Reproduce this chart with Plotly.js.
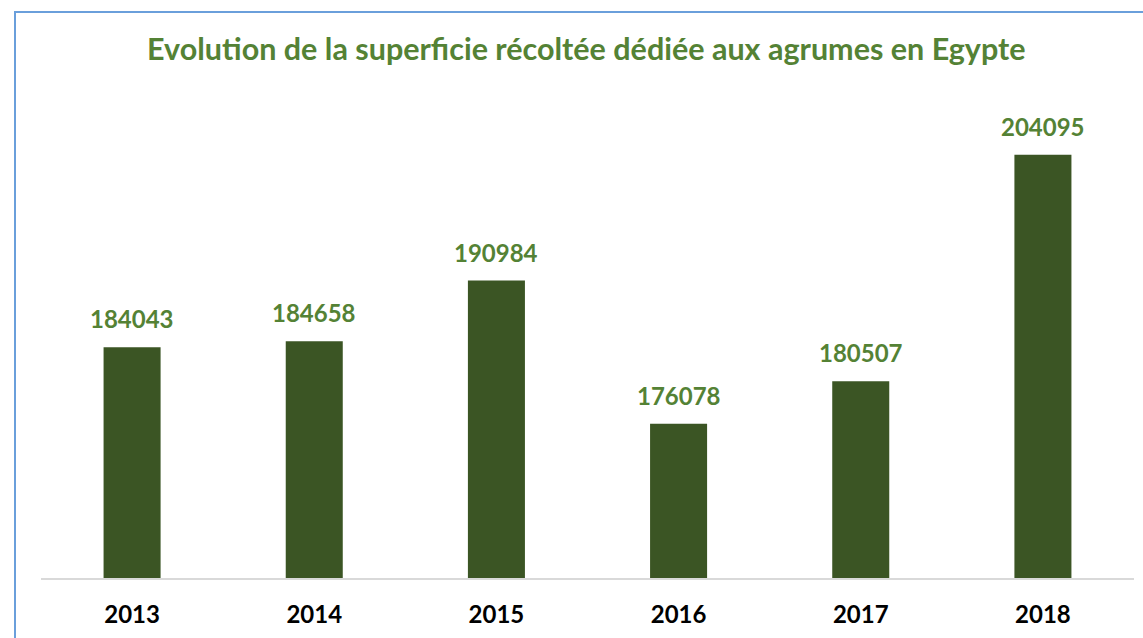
<!DOCTYPE html>
<html>
<head>
<meta charset="utf-8">
<script src="https://cdn.plot.ly/plotly-3.0.1.min.js"></script>
<style>
html,body{margin:0;padding:0;width:1143px;height:638px;overflow:hidden;background:#fff;}
#frame{position:absolute;left:14px;top:11px;width:1200px;height:700px;border:2px solid #6A9FDB;box-sizing:border-box;}
#chart{position:absolute;left:0;top:0;width:1143px;height:638px;}
</style>
</head>
<body>
<div id="frame"></div>
<div id="chart"></div>
<script>
var years = ['2013','2014','2015','2016','2017','2018'];
var surfaces = [184043, 184658, 190984, 176078, 180507, 204095];
var titleText = 'Evolution de la superficie récoltée dédiée aux agrumes en Egypte';

var FONT = 'Lato, "Open Sans", sans-serif';

var trace = {
  type: 'bar',
  x: years,
  y: surfaces,
  marker: {color: '#3B5524'},
  hoverinfo: 'x+y'
};

var annotations = years.map(function (yr, i) {
  return {
    x: i, y: surfaces[i], xref: 'x', yref: 'y',
    text: '<b>' + surfaces[i] + '</b>',
    showarrow: false, yanchor: 'bottom', yshift: 12,
    font: {family: FONT, size: 24, color: '#548235'}
  };
});

var layout = {
  width: 1143,
  height: 638,
  paper_bgcolor: 'rgba(0,0,0,0)',
  plot_bgcolor: 'rgba(0,0,0,0)',
  margin: {l: 41, r: 9, t: 98, b: 60},
  bargap: 0.687,
  showlegend: false,
  annotations: annotations,
  title: {
    text: '<b>' + titleText + '</b>',
    font: {family: FONT, size: 30.5, color: '#548235'},
    x: 0.513, xanchor: 'center',
    y: 0.922, yanchor: 'middle'
  },
  xaxis: {
    type: 'category',
    range: [-0.5, 5.5],
    showline: true, linecolor: '#D9D9D9', linewidth: 2,
    ticks: '', showgrid: false,
    tickfont: {family: FONT, size: 24, color: '#000', weight: 'bold'},
    ticklabelstandoff: 14
  },
  yaxis: {
    range: [160000, 210000],
    visible: false,
    showgrid: false, zeroline: false
  }
};

Plotly.newPlot('chart', [trace], layout, {displayModeBar: false, staticPlot: true});
</script>
</body>
</html>
